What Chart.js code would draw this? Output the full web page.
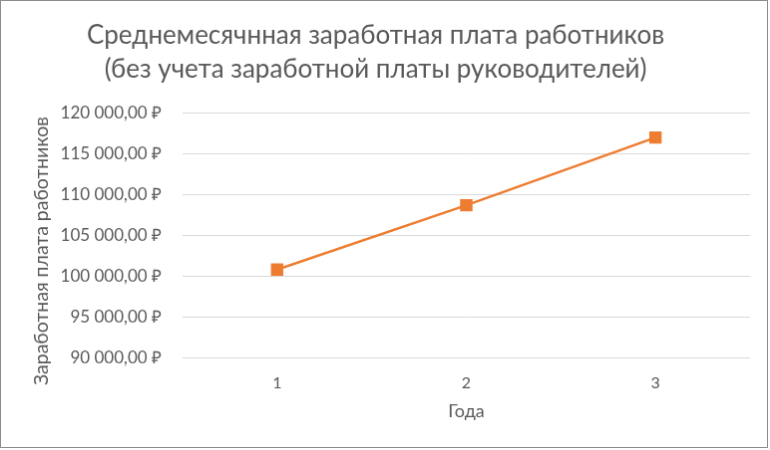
<!DOCTYPE html>
<html lang="ru">
<head>
<meta charset="utf-8">
<script src="https://cdn.jsdelivr.net/npm/chart.js@4/dist/chart.umd.min.js"></script>
<style>
  html, body { margin: 0; padding: 0; background: #fff; }
  #chart { display: block; border: 1px solid #8c8c8c; background: #fff; }
</style>
</head>
<body>
<canvas id="chart" width="768" height="448"></canvas>
<script>
// data
const years = ['1', '2', '3'];
const salary = [100800, 108700, 117000];
const yMin = 90000;
const yMax = 120000;
const yStep = 5000;
const yTitle = 'Заработная плата работников';

const font = "Lato, 'Liberation Sans', sans-serif";
const grey = '#595959';

// "120 000,00 ₽"
function rub(v) {
    const whole = Math.round(v).toString().replace(/\B(?=(\d{3})+(?!\d))/g, '\u00A0');
    return whole + ',00\u00A0\u20BD';
}

// Excel puts the value-axis title a bit below the middle of the plot, so draw it by hand
const yTitlePlugin = {
    id: 'yTitle',
    afterDraw(chart) {
        const ctx = chart.ctx;
        ctx.save();
        ctx.translate(41, 251);
        ctx.rotate(-Math.PI / 2);
        ctx.font = '19.5px ' + font;
        ctx.fillStyle = grey;
        ctx.textAlign = 'center';
        ctx.textBaseline = 'middle';
        ctx.fillText(yTitle, 0, 0);
        ctx.restore();
    }
};

new Chart(document.getElementById('chart'), {
    type: 'line',
    data: {
        labels: years,
        datasets: [{
            data: salary,
            borderColor: '#ED7D31',
            backgroundColor: '#ED7D31',
            borderWidth: 2.5,
            pointStyle: 'rect',
            pointRadius: 7,
            pointHoverRadius: 7,
            tension: 0
        }]
    },
    plugins: [yTitlePlugin],
    options: {
        responsive: false,
        animation: false,
        devicePixelRatio: 1,
        layout: { padding: { left: 0, right: 17, top: 0, bottom: 25 } },
        plugins: {
            legend: { display: false },
            tooltip: { enabled: false },
            title: {
                display: true,
                text: ['Среднемесячнная заработная плата работников', '(без учета заработной платы руководителей)'],
                color: grey,
                font: { family: font, size: 26, weight: 'normal', lineHeight: 1.3 },
                padding: { top: 18, bottom: 27 }
            }
        },
        scales: {
            x: {
                offset: true,
                grid: { display: false, drawTicks: false },
                border: { display: false },
                ticks: { color: grey, font: { family: font, size: 16 }, padding: 16 },
                title: {
                    display: true,
                    text: 'Года',
                    color: grey,
                    font: { family: font, size: 18 },
                    padding: { top: -8, bottom: 0 }
                }
            },
            y: {
                min: yMin,
                max: yMax,
                grid: { color: '#d9d9d9', lineWidth: 1, drawTicks: false },
                border: { display: false },
                afterFit: scale => { scale.width = 182; },
                ticks: {
                    stepSize: yStep,
                    color: grey,
                    font: { family: font, size: 17 },
                    padding: 21,
                    callback: v => rub(v)
                }
            }
        }
    }
});
</script>
</body>
</html>
